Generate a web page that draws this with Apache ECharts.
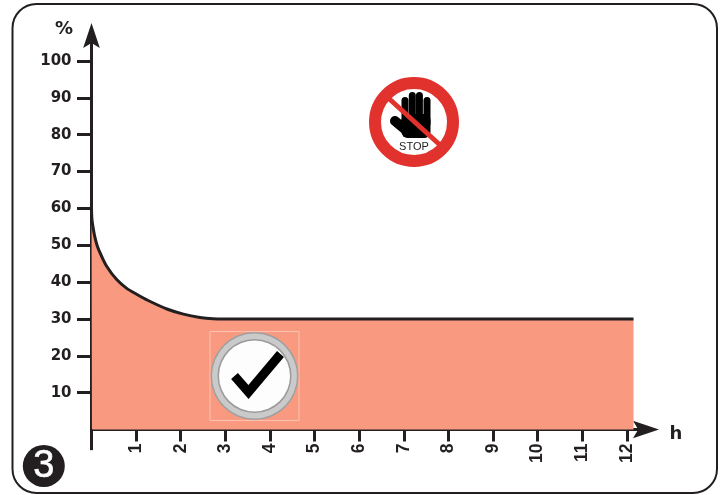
<!DOCTYPE html>
<html><head><meta charset="utf-8">
<style>html,body{margin:0;padding:0;background:#fff}#c{width:727px;height:495px}</style>
<script src="https://cdn.jsdelivr.net/npm/echarts@6/dist/echarts.min.js"></script>
</head><body><div id="c"></div>
<script>
const curveHours = [0, 0.01, 0.04, 0.08, 0.13, 0.19, 0.34, 0.57, 0.79, 1.01, 1.27, 1.69, 2.06, 2.43, 2.72, 3, 12.15];
const curvePercent = [60, 57, 54.5, 52, 49.8, 48, 44.3, 40.6, 38.3, 36.7, 35, 32.7, 31.3, 30.4, 30.05, 30, 30];
const xTicks = [1,2,3,4,5,6,7,8,9,10,11,12];
const yTicks = [10,20,30,40,50,60,70,80,90,100];
const INK = '#231f20';
const curve = curveHours.map((h,i)=>[h,curvePercent[i]]);
const chart = echarts.init(document.getElementById('c'),null,{renderer:'canvas'});
const ARROW='path://M0,0 L10,30 L0,24 L-10,30 Z';
const Z=20;
const finger=(x,y,h)=>({type:'rect',z:Z,shape:{x:x-3.5,y:y,width:7,height:h,r:3.5},style:{fill:'#000'}});
chart.setOption({
 animation:false,
 grid:{left:91.5,top:35.5,width:554.5,height:394,containLabel:false},
 xAxis:{type:'value',min:0,max:12.43,interval:1,splitLine:{show:false},
  axisLine:{onZero:false,lineStyle:{color:INK,width:3},symbol:['none',ARROW],symbolSize:[24,26]},
  axisTick:{show:true,inside:false,length:12,lineStyle:{color:INK,width:3},customValues:xTicks},
  axisLabel:{customValues:xTicks,rotate:90,margin:14,fontFamily:'"Liberation Sans"',fontWeight:'bold',fontSize:17.5,color:INK,hideOverlap:false}},
 yAxis:{type:'value',min:0,max:106.9,interval:10,splitLine:{show:false},
  axisLine:{onZero:false,lineStyle:{color:INK,width:3},symbol:['none',ARROW],symbolSize:[24,25]},
  axisTick:{show:true,length:14.5,lineStyle:{color:INK,width:3},customValues:yTicks},
  axisLabel:{customValues:yTicks,margin:20,fontFamily:'"DejaVu Sans"',fontWeight:'bold',fontSize:15,color:INK}},
 graphic:[
  {type:'rect',z:-1,shape:{x:12.5,y:4,width:704.5,height:489,r:24},style:{fill:'#fff',stroke:INK,lineWidth:2}},
  {type:'text',x:55,y:20,style:{text:'%',font:'bold 18px "DejaVu Sans"',fill:INK}},
  {type:'text',x:669.5,y:425,style:{text:'h',font:'bold 18px "DejaVu Sans"',fill:INK}},
  {type:'group',x:43.8,y:466,children:[
    {type:'circle',z:Z,shape:{r:21},style:{fill:INK}},
    {type:'text',z:Z+1,style:{text:'3',x:0,y:1,align:'center',verticalAlign:'middle',font:'38px "Liberation Sans"',fill:'#fff',stroke:'#fff',lineWidth:0.6}}]},
  {type:'group',x:414,y:122,children:[
    {type:'circle',z:Z,shape:{r:39},style:{fill:'#fff',stroke:'#e1322d',lineWidth:12}},
    finger(-9,-25,30),finger(-1.7,-30,30),finger(5.4,-30,30),finger(13,-25,30),
    {type:'rect',z:Z,shape:{x:-12.5,y:-8,width:29,height:24,r:6},style:{fill:'#000'}},
    {type:'polyline',z:Z,shape:{points:[[-19,-1],[-7,9]]},style:{fill:'none',stroke:'#000',lineWidth:10,lineCap:'round'}},
    {type:'line',z:Z+1,shape:{x1:-29,y1:-27,x2:26,y2:23},style:{stroke:'#e1322d',lineWidth:5}},
    {type:'text',z:Z+1,style:{text:'STOP',x:0,y:25,align:'center',verticalAlign:'middle',font:'11px "Liberation Sans"',fill:'#222'}}]},
  {type:'group',x:254.5,y:376,children:[
    {type:'rect',z:Z,shape:{x:-44.5,y:-44.5,width:89,height:89},style:{fill:'none',stroke:'#fcc3b2',lineWidth:1}},
    {type:'circle',z:Z,shape:{r:44},style:{fill:'#a0a0a0'}},
    {type:'circle',z:Z,shape:{r:42.5},style:{fill:'#cacaca'}},
    {type:'circle',z:Z,shape:{r:37},style:{fill:'#9a9a9a'}},
    {type:'circle',z:Z,shape:{r:35.5},style:{fill:'#fdfdfd'}},
    {type:'polyline',z:Z+1,shape:{points:[[-20,0],[-6,16],[26,-22]]},style:{fill:'none',stroke:'#000',lineWidth:9,lineJoin:'miter'}}]}
 ],
 series:[
  {type:'line',name:'limit',data:curve,smooth:0.3,showSymbol:false,clip:false,z:3,
   lineStyle:{color:INK,width:3},areaStyle:{color:'#f99a80',opacity:1,origin:'start'}},
  {type:'line',name:'xExt',data:[[-0.57,0],[0,0]],showSymbol:false,clip:false,silent:true,z:4,lineStyle:{color:INK,width:3}},
  {type:'line',name:'yExt',data:[[0,0],[0,-5.6]],showSymbol:false,clip:false,silent:true,z:4,lineStyle:{color:INK,width:3}}
 ]
});
</script></body></html>
